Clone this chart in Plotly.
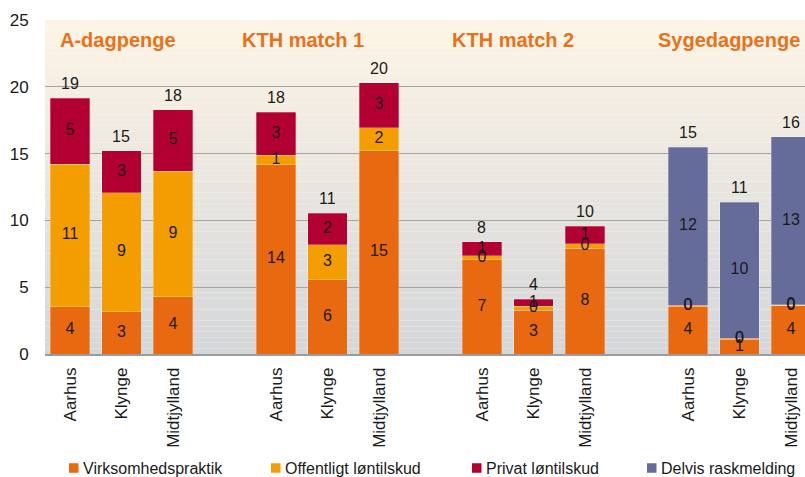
import plotly.graph_objects as go

# ---------------- data ----------------
groups = ["A-dagpenge", "KTH match 1", "KTH match 2", "Sygedagpenge"]
regions = ["Aarhus", "Klynge", "Midtjylland"]
series_names = ["Virksomhedspraktik", "Offentligt løntilskud", "Privat løntilskud", "Delvis raskmelding"]

virksomhedspraktik = [3.55, 3.17, 4.30, 14.15, 5.55, 15.20, 7.05, 3.27, 7.92, 3.55, 1.05, 3.60]
offentligt_loentilskud = [10.65, 8.91, 9.38, 0.73, 2.63, 1.73, 0.32, 0.30, 0.33, 0.05, 0.10, 0.05]
privat_loentilskud = [4.93, 3.12, 4.62, 3.20, 2.35, 3.37, 1.05, 0.53, 1.30, 0.05, 0.02, 0.05]
delvis_raskmelding = [None, None, None, None, None, None, None, None, None, 11.82, 10.20, 12.55]

y_ticks = [0, 5, 10, 15, 20, 25]

# ---------------- styles ----------------
colors = ["#E8690F", "#F39D00", "#B20032", "#656C9A"]
title_color = "#E8711A"
font_family = "Liberation Sans, Arial, sans-serif"
text_color = "#1A1A1A"

W, H = 805, 477
ML, MR, MT, MB = 45, 0, 20, 123
plot_w = W - ML - MR
plot_h = H - MT - MB

# positions: 3 bars per group, one empty slot between groups
x_pos = [g * 4 + i for g in range(len(groups)) for i in range(len(regions))]
x_labels = [r for _ in groups for r in regions]

all_series = [virksomhedspraktik, offentligt_loentilskud, privat_loentilskud, delvis_raskmelding]

fig = go.Figure()

# gradient background (plot area only)
n_steps = 60
top_rgb = (253, 244, 229)
bot_rgb = (212, 215, 218)
shapes = []
for k in range(n_steps):
    t = k / (n_steps - 1)
    r = round(top_rgb[0] + (bot_rgb[0] - top_rgb[0]) * t)
    g = round(top_rgb[1] + (bot_rgb[1] - top_rgb[1]) * t)
    b = round(top_rgb[2] + (bot_rgb[2] - top_rgb[2]) * t)
    y1 = 25 - 25 * k / n_steps
    y0 = 25 - 25 * (k + 1) / n_steps
    shapes.append(dict(type="rect", xref="paper", yref="y", x0=0, x1=1, y0=y0, y1=y1,
                       fillcolor=f"rgb({r},{g},{b})", line=dict(width=0), layer="below"))

for name, vals, col in zip(series_names, all_series, colors):
    fig.add_trace(go.Bar(
        x=x_pos, y=vals, name=name, width=0.77, showlegend=False,
        marker=dict(color=col, line=dict(color="rgba(255,255,255,0.35)", width=0.8)),
        hoverinfo="skip",
    ))

# segment labels
base = [0.0] * len(x_pos)
for vals in all_series:
    xs, ys, ts = [], [], []
    for i, v in enumerate(vals):
        if v is None:
            continue
        xs.append(x_pos[i])
        ys.append(base[i] + v / 2)
        ts.append(f"{round(v):d}")
        base[i] += v
    fig.add_trace(go.Scatter(x=xs, y=ys, text=ts, mode="text", textposition="middle center",
                             textfont=dict(size=16, color=text_color, family=font_family),
                             showlegend=False, hoverinfo="skip", cliponaxis=False))

# totals
totals = base
annotations = []
for xp, tv in zip(x_pos, totals):
    annotations.append(dict(x=xp, y=tv, xref="x", yref="y", text=f"{round(tv):d}",
                            showarrow=False, xanchor="center", yanchor="bottom", yshift=4,
                            font=dict(size=16, color=text_color, family=font_family)))

# group titles
title_x = [-0.233, 3.31, 7.38, 11.38]
for gx, gname in zip(title_x, groups):
    annotations.append(dict(x=gx, y=23.5, xref="x", yref="y", text=f"<b>{gname}</b>",
                            showarrow=False, xanchor="left", yanchor="middle",
                            font=dict(size=20, color=title_color, family=font_family)))

# legend (drawn manually for exact spacing)
legend_marker_px = [69, 271, 472, 647]
legend_text_px = [82, 284, 485, 660]
legend_y_px = 468
ly = (H - MB - legend_y_px) / plot_h
half = 4.75 / plot_h
for name, col, mx, tx in zip(series_names, colors, legend_marker_px, legend_text_px):
    shapes.append(dict(type="rect", xref="paper", yref="paper",
                       x0=(mx - ML) / plot_w, x1=(mx + 9.5 - ML) / plot_w,
                       y0=ly - half, y1=ly + half, fillcolor=col, line=dict(width=0)))
    annotations.append(dict(x=(tx - ML) / plot_w, y=ly, xref="paper", yref="paper", text=name,
                            showarrow=False, xanchor="left", yanchor="middle", borderpad=0,
                            font=dict(size=16, color=text_color, family=font_family)))

fig.update_layout(
    width=W, height=H,
    margin=dict(l=ML, r=MR, t=MT, b=MB),
    paper_bgcolor="white", plot_bgcolor="white",
    barmode="stack",
    shapes=shapes, annotations=annotations,
    font=dict(family=font_family, color=text_color),
    showlegend=False,
    xaxis=dict(range=[-0.485, 14.272], tickmode="array", tickvals=x_pos, ticktext=x_labels,
               tickangle=-90, tickfont=dict(size=17, color=text_color), automargin=False,
               showgrid=False, zeroline=False, showline=True, linecolor="#9C9C9C", linewidth=1.5,
               ticks="outside", ticklen=5, tickcolor="rgba(0,0,0,0)"),
    yaxis=dict(range=[0, 25], tickmode="array", tickvals=y_ticks, automargin=False,
               tickfont=dict(size=17, color=text_color),
               showgrid=True, gridcolor="#A4A4A4", gridwidth=1, zeroline=False, showline=False,
               ticks="outside", ticklen=12, tickcolor="rgba(0,0,0,0)"),
)

fig.write_html("out.html", config={"displayModeBar": False},
               post_script="document.body.style.margin='0';")
